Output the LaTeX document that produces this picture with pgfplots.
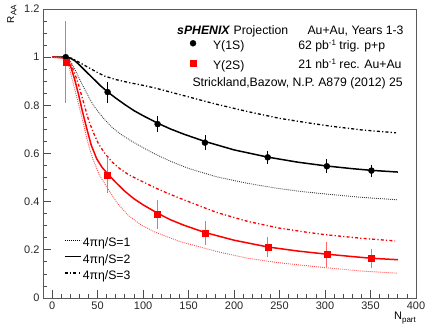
\documentclass[border=0pt]{standalone}
\usepackage{fontspec}
\setmainfont{Liberation Sans}
\usepackage{pgfplots}
\pgfplotsset{compat=1.18}
\definecolor{rred}{RGB}{255,0,0}
\newcommand{\ft}{\fontsize{11}{13}\selectfont}
\newcommand{\fl}{\fontsize{12.3}{14}\selectfont}
\newcommand{\sps}[1]{{\fontsize{8}{9}\selectfont\raisebox{0.5em}{#1}}}
\newcommand{\sbs}[1]{{\fontsize{8}{9}\selectfont\raisebox{-0.3em}{#1}}}
\pgfplotsset{
  myaxis/.style={scale only axis, width=373bp, height=289bp, xmin=-10, xmax=400, ymin=0, ymax=1.2},
  dotst/.style={line width=0.9bp, dash pattern=on 0.9bp off 1.1bp},
  ddst/.style={line width=1.3bp, dash pattern=on 3bp off 2.2bp on 1.2bp off 2.2bp},
  solst/.style={line width=1.5bp},
  markleg/.style={legend image code/.code={\path[draw=none,fill=none] (-3bp,-3bp) rectangle (20bp,3bp); \draw[##1] plot coordinates {(0bp,3.5bp)};}},
  lineleg/.style={legend image code/.code={\path[draw=none,fill=none] (0bp,-3bp) rectangle (18bp,3bp); \draw[##1] (0bp,3.5bp) -- (16bp,3.5bp);}},
}
\begin{document}
\begin{tikzpicture}
\path[use as bounding box] (-43bp,-26bp) rectangle (383bp,298bp);
\begin{axis}[myaxis,
  axis line style={black!65, line width=0.9bp},
  tick style={black!70, line width=0.8bp},
  tick align=inside, xtick pos=left, ytick pos=left,
  xtick={0,50,100,150,200,250,300,350,400},
  ytick={0,0.2,0.4,0.6,0.8,1,1.2},
  minor x tick num=4, minor y tick num=3,
  major tick length=8bp, minor tick length=4bp,
  tick label style={font=\ft, text=black!85},
  /pgf/number format/assume math mode=true,
  xlabel={N\sbs{part}},
  xlabel style={at={(rel axis cs:1,-0.076)}, anchor=base east, inner sep=0pt, font=\fontsize{11}{13}\selectfont},
  ylabel={R\sbs{AA}},
  ylabel style={at={(rel axis cs:-0.0965,1.0138)}, anchor=north east, inner sep=0pt, font=\fontsize{10}{12}\selectfont},
  legend style={draw=none, fill=none, at={(axis cs:151.6,1.0702)}, anchor=north west,
    inner sep=0pt, outer sep=0pt, row sep=7.7bp,
    nodes={inner sep=0pt, font=\fl, text height=9bp, text depth=3bp},
    /tikz/every even column/.append style={column sep=0pt}},
  legend cell align=left,
]
% eta/S = 3 (dash-dot)
\addplot[black, ddst, forget plot] coordinates {(0,1) (15,1) (22,0.995) (30,0.978) (40,0.957) (50,0.936) (58,0.921) (70,0.907) (85,0.894) (100,0.883) (113,0.872) (130,0.855) (145,0.840) (179,0.806) (215,0.774) (250,0.746) (280,0.728) (305,0.714) (340,0.698) (378,0.686)};
% eta/S = 2 (solid)
\addplot[black, solst, forget plot] coordinates {(0,1) (15,1) (20,0.996) (25,0.985) (30,0.968) (36,0.945) (45,0.912) (53,0.882) (61,0.856) (70,0.83) (80,0.803) (90,0.778) (100,0.757) (116,0.726) (130,0.702) (145,0.68) (168,0.65) (200,0.615) (237,0.585) (270,0.564) (302,0.548) (330,0.537) (351,0.530) (380,0.523)};
% eta/S = 1 (dotted)
\addplot[black!75, dotst, forget plot] coordinates {(0,1) (15,1) (18,0.993) (21,0.978) (25,0.95) (30,0.91) (36,0.865) (42,0.822) (47,0.792) (56,0.748) (66,0.708) (77,0.676) (88,0.65) (100,0.624) (113,0.598) (130,0.568) (150,0.538) (181,0.503) (215,0.476) (245,0.457) (270,0.444) (300,0.432) (340,0.418) (379,0.408)};
% red curves
\addplot[rred, ddst, forget plot] coordinates {(0,1) (15,0.997) (18,0.99) (22,0.96) (26,0.92) (29,0.887) (34,0.82) (40,0.74) (45,0.69) (51,0.64) (58,0.6) (66,0.565) (75,0.535) (85,0.51) (100,0.482) (113,0.458) (130,0.43) (150,0.4) (181,0.355) (215,0.318) (250,0.29) (280,0.273) (300,0.263) (340,0.248) (377,0.237)};
\addplot[rred, solst, forget plot] coordinates {(0,1) (15,0.997) (18,0.985) (21,0.955) (25,0.905) (29,0.846) (33,0.78) (38,0.705) (43,0.635) (49,0.578) (55,0.542) (62,0.512) (70,0.48) (80,0.443) (90,0.412) (100,0.387) (116,0.352) (130,0.325) (145,0.302) (168,0.272) (200,0.24) (237,0.212) (270,0.195) (302,0.182) (330,0.172) (351,0.165) (380,0.159)};
\addplot[rred!70, dotst, forget plot] coordinates {(0,1) (15,0.995) (18,0.97) (21.6,0.915) (26,0.85) (31,0.776) (35,0.715) (38,0.665) (42,0.61) (45,0.575) (52,0.51) (62,0.45) (72,0.392) (84,0.342) (98,0.303) (113,0.274) (140,0.235) (181,0.193) (215,0.165) (250,0.146) (300,0.126) (340,0.112) (379,0.103)};
% data
\addplot[black, only marks, mark=*, mark size=3bp, forget plot,
  error bars/.cd, y dir=both, y explicit,
  error bar style={black, line width=0.8bp},
  error mark options={black, mark size=2bp, line width=0.8bp}]
  coordinates {(15,1) +- (0,0.006) (61,0.855) +- (0,0.035) (116,0.722) +- (0,0.026) (168,0.645) +- (0,0.022) (237,0.584) +- (0,0.02) (302,0.547) +- (0,0.02) (351,0.529) +- (0,0.017)};
\addplot[rred, only marks, mark=square*, mark size=3bp, forget plot,
  error bars/.cd, y dir=both, y explicit,
  error bar style={rred!60, line width=0.8bp},
  error mark options={rred!60, mark size=2bp, line width=0.8bp}]
  coordinates {(15,0.98) +- (0,0.16) (61,0.511) +- (0,0.066) (116,0.348) +- (0,0.052) (168,0.269) +- (0,0.042) (237,0.212) +- (0,0.035) (302,0.181) +- (0,0.043) (351,0.164) +- (0,0.033)};
\addlegendimage{black, only marks, mark=*, mark size=3bp, markleg}
\addlegendentry{Υ(1S)}
\addlegendimage{rred, only marks, mark=square*, mark size=3bp, markleg}
\addlegendentry{Υ(2S)}
\node[anchor=base west, inner sep=0pt, font=\fl] at (axis cs:137.3,1.095) {\textbf{\textit{sPHENIX}} Projection};
\node[anchor=base east, inner sep=0pt, font=\fl] at (axis cs:386.5,1.095) {Au+Au, Years 1-3};
\node[anchor=base west, inner sep=0pt, font=\fl] at (axis cs:270.4,1.033) {62 pb\sps{-1} trig. p+p};
\node[anchor=base west, inner sep=0pt, font=\fl] at (axis cs:270.4,0.951) {21 nb\sps{-1} rec. Au+Au};
\node[anchor=base east, inner sep=0pt, font=\fl] at (axis cs:385.7,0.880) {Strickland,Bazow, N.P. A879 (2012) 25};
\end{axis}
\begin{axis}[myaxis, hide axis,
  legend style={draw=none, fill=none, at={(axis cs:13.1,0.2512)}, anchor=north west,
    inner sep=0pt, outer sep=0pt, row sep=4.5bp,
    nodes={inner sep=0pt, font=\fl, text height=9bp, text depth=3bp},
    /tikz/every even column/.append style={column sep=0pt}},
  legend cell align=left,
]
\addlegendimage{black, dotst, lineleg}
\addlegendentry{4πη/S=1}
\addlegendimage{black, solst, lineleg}
\addlegendentry{4πη/S=2}
\addlegendimage{black, ddst, lineleg}
\addlegendentry{4πη/S=3}
\end{axis}
\end{tikzpicture}
\end{document}
